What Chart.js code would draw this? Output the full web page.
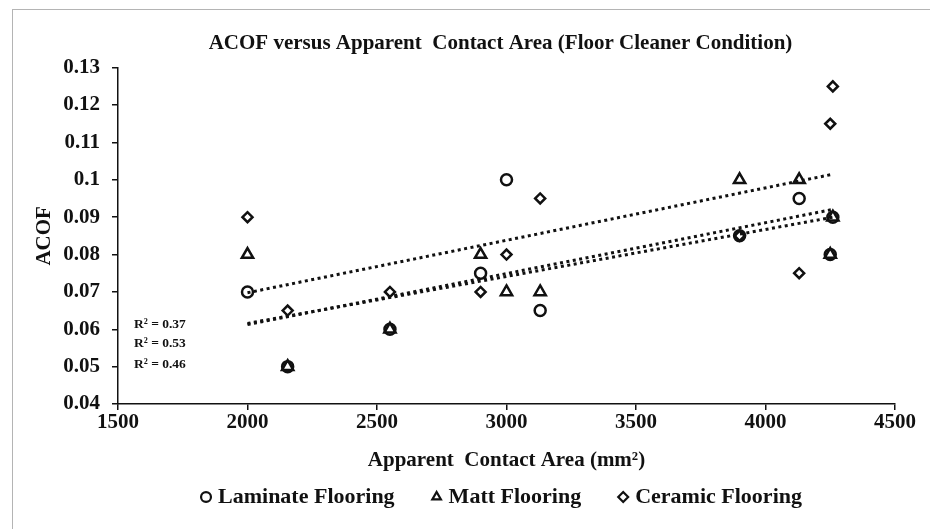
<!DOCTYPE html>
<html>
<head>
<meta charset="utf-8">
<script src="https://cdn.jsdelivr.net/npm/chart.js@4.4.1/dist/chart.umd.min.js"></script>
<style>
    html, body { margin: 0; padding: 0; background: #fff; }
    #wrap { position: relative; width: 930px; height: 529px; }
    #frame { position: absolute; left: 12px; top: 9px; width: 940px; height: 540px; border: 1px solid #b4b4b4; box-sizing: border-box; }
</style>
</head>
<body>
<div id="wrap">
    <div id="frame"></div>
    <canvas id="acofChart" width="930" height="529"></canvas>
</div>
<script>
// Apparent contact area (mm²) shared by all three floors
const contactArea = [2000, 2155, 2550, 2900, 3000, 3130, 3900, 4130, 4250, 4260];

// ACOF readings per flooring
const laminateAcof = [0.07, 0.05, 0.06, 0.075, 0.1, 0.065, 0.085, 0.095, 0.08, 0.09];
const mattAcof = [0.08, 0.05, 0.06, 0.08, 0.07, 0.07, 0.1, 0.1, 0.08, 0.09];
const ceramicAcof = [0.09, 0.065, 0.07, 0.07, 0.08, 0.095, 0.085, 0.075, 0.115, 0.125];

// R² labels as printed on the chart
const rSquaredLabels = ["R² = 0.37", "R² = 0.53", "R² = 0.46"];

const serif = "'Liberation Serif', 'Times New Roman', serif";

// Least squares line between the smallest and largest x
function trendPoints(xs, ys) {
    const n = xs.length;
    const mx = xs.reduce((a, b) => a + b, 0) / n;
    const my = ys.reduce((a, b) => a + b, 0) / n;
    let sxy = 0, sxx = 0;
    for (let i = 0; i < n; i++) {
        sxy += (xs[i] - mx) * (ys[i] - my);
        sxx += (xs[i] - mx) * (xs[i] - mx);
    }
    const slope = sxy / sxx;
    const x0 = Math.min(...xs), x1 = Math.max(...xs);
    return [
        { x: x0, y: my + slope * (x0 - mx) },
        { x: x1, y: my + slope * (x1 - mx) }
    ];
}

function toPoints(ys) {
    return contactArea.map((x, i) => ({ x: x, y: ys[i] }));
}

function markerSet(label, ys, style, radius) {
    return {
        type: "scatter",
        label: label,
        data: toPoints(ys),
        pointStyle: style,
        pointRadius: radius,
        pointHoverRadius: radius,
        pointBorderWidth: 2.5,
        pointBorderColor: "#111",
        pointBackgroundColor: "rgba(0,0,0,0)",
        borderColor: "#111",
        backgroundColor: "rgba(0,0,0,0)",
        showLine: false
    };
}

function trendSet(ys) {
    return {
        type: "line",
        label: "trend",
        data: trendPoints(contactArea, ys),
        borderColor: "#111",
        borderWidth: 3,
        borderDash: [3, 3.5],
        pointRadius: 0,
        fill: false
    };
}

// Write the R² values near the left edge of the plot
const rSquaredPlugin = {
    id: "rSquared",
    afterDatasetsDraw(chart) {
        const ctx = chart.ctx;
        const area = chart.chartArea;
        ctx.save();
        ctx.fillStyle = "#111";
        ctx.font = "bold 13.5px " + serif;
        ctx.textBaseline = "middle";
        ctx.textAlign = "left";
        const rowY = [257, 276, 297];
        rSquaredLabels.forEach((t, i) => {
            ctx.fillText(t, area.left + 16, area.top + rowY[i]);
        });
        ctx.restore();
    }
};

// Centre title and legend over the plot area instead of the whole canvas
const centreOverPlot = {
    id: "centreOverPlot",
    afterLayout(chart) {
        const area = chart.chartArea;
        if (chart.titleBlock) {
            chart.titleBlock.left = area.left - 12;
            chart.titleBlock.right = area.right;
        }
        if (chart.legend) {
            chart.legend.left = area.left;
            chart.legend.right = area.right - 6;
        }
    }
};

const tickFont = { family: serif, size: 21, weight: "bold" };

new Chart(document.getElementById("acofChart").getContext("2d"), {
    data: {
        datasets: [
            markerSet("Laminate Flooring", laminateAcof, "circle", 5.5),
            markerSet("Matt Flooring", mattAcof, "triangle", 6.5),
            markerSet("Ceramic Flooring", ceramicAcof, "rectRot", 5),
            trendSet(ceramicAcof),
            trendSet(mattAcof),
            trendSet(laminateAcof)
        ]
    },
    options: {
        responsive: false,
        animation: false,
        layout: { padding: { left: 12, right: 35, top: 0, bottom: 11 } },
        plugins: {
            tooltip: { enabled: false },
            title: {
                display: true,
                text: "ACOF versus Apparent  Contact Area (Floor Cleaner Condition)",
                color: "#111",
                font: { family: serif, size: 21, weight: "bold" },
                padding: { top: 31, bottom: 11.5 }
            },
            legend: {
                position: "bottom",
                labels: {
                    color: "#111",
                    font: { family: serif, size: 22, weight: "bold" },
                    usePointStyle: true,
                    boxWidth: 2,
                    boxHeight: 7,
                    padding: 8,
                    filter: item => item.text !== "trend",
                    // widen the gap between legend entries
                    generateLabels: chart => {
                        const base = Chart.defaults.plugins.legend.labels.generateLabels(chart);
                        return base.map((item, i) => {
                            if (i < 2) item.text = item.text + "      ";
                            item.lineWidth = 2.2;
                            return item;
                        });
                    }
                }
            }
        },
        scales: {
            x: {
                type: "linear",
                min: 1500,
                max: 4500,
                afterFit: scale => { scale.height = 74; },
                border: { display: true, color: "#111", width: 1.5 },
                grid: { drawOnChartArea: false, drawTicks: true, tickLength: 6, color: "#111", lineWidth: 1.5 },
                ticks: {
                    stepSize: 500,
                    color: "#111",
                    font: tickFont,
                    padding: 0,
                    callback: v => String(v)
                },
                title: {
                    display: true,
                    text: "Apparent  Contact Area (mm²)",
                    color: "#111",
                    font: { family: serif, size: 21, weight: "bold" },
                    padding: { top: 0, bottom: 5 }
                }
            },
            y: {
                type: "linear",
                min: 0.04,
                max: 0.13,
                afterFit: scale => { scale.width = 106; },
                border: { display: true, color: "#111", width: 1.5 },
                grid: { drawOnChartArea: false, drawTicks: true, tickLength: 6, color: "#111", lineWidth: 1.5 },
                ticks: {
                    stepSize: 0.01,
                    color: "#111",
                    font: tickFont,
                    padding: 12,
                    callback: v => String(Number(v.toFixed(2)))
                },
                title: {
                    display: true,
                    text: "ACOF",
                    color: "#111",
                    font: { family: serif, size: 21, weight: "bold" },
                    padding: { top: 20, bottom: 0 }
                }
            }
        }
    },
    plugins: [rSquaredPlugin, centreOverPlot]
});
</script>
</body>
</html>
